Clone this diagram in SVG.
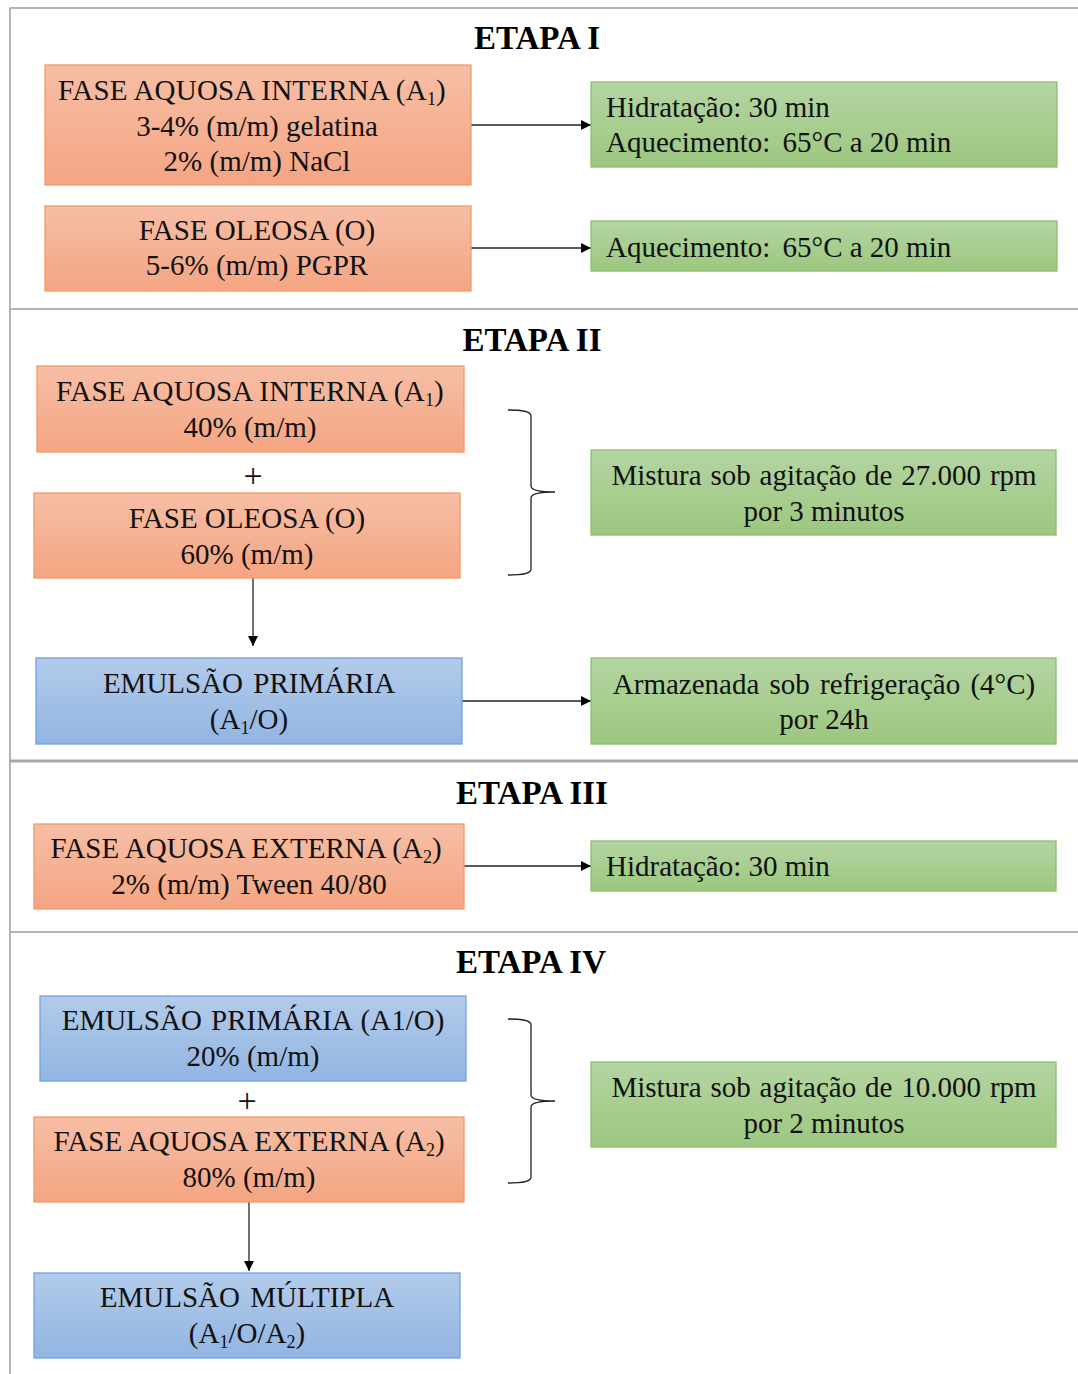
<svg xmlns="http://www.w3.org/2000/svg" width="1078" height="1374" viewBox="0 0 1078 1374">
<defs>
<linearGradient id="gO" x1="0" y1="0" x2="0" y2="1"><stop offset="0" stop-color="#f7bea5"/><stop offset="1" stop-color="#f4a582"/></linearGradient>
<linearGradient id="gG" x1="0" y1="0" x2="0" y2="1"><stop offset="0" stop-color="#b4d5a2"/><stop offset="1" stop-color="#9cc77f"/></linearGradient>
<linearGradient id="gB" x1="0" y1="0" x2="0" y2="1"><stop offset="0" stop-color="#b2cbea"/><stop offset="1" stop-color="#92b5e2"/></linearGradient>
<marker id="ah" viewBox="0 0 10 10" refX="10" refY="5" markerWidth="10" markerHeight="10" markerUnits="userSpaceOnUse" orient="auto"><path d="M0,0 L10,5 L0,10 z" fill="#000"/></marker>
</defs>
<style>
.o{fill:url(#gO);stroke:#f39a64;stroke-width:1.3}
.g{fill:url(#gG);stroke:#8dbf6c;stroke-width:1.3}
.b{fill:url(#gB);stroke:#6fa3e0;stroke-width:1.3}
text{font-family:"Liberation Serif","Times New Roman",serif;font-size:29px;fill:#111}
.c{text-anchor:middle}
.t{font-weight:bold;font-size:33px;text-anchor:middle;fill:#000}
.s{font-size:18px}
.p{font-size:34px}
.frame{stroke:#b4b4b4;stroke-width:2;fill:none}
.ln{stroke:#222;stroke-width:1.3;fill:none}
</style>
<rect width="1078" height="1374" fill="#fff"/>
<g id="frame">
<line class="frame" x1="10" y1="8" x2="1078" y2="8"/>
<line class="frame" x1="10" y1="8" x2="10" y2="1374"/>
<line class="frame" x1="10" y1="309" x2="1078" y2="309"/>
<line class="frame" x1="10" y1="761" x2="1078" y2="761" style="stroke-width:3;stroke:#a8a8a8"/>
<line class="frame" x1="10" y1="932" x2="1078" y2="932"/>
</g>
<g id="titles">
<text class="t" x="537" y="49">ETAPA I</text>
<text class="t" x="532" y="351">ETAPA II</text>
<text class="t" x="532" y="804">ETAPA III</text>
<text class="t" x="531" y="973">ETAPA IV</text>
</g>
<g id="connectors">
<line class="ln" x1="471" y1="125" x2="591" y2="125" marker-end="url(#ah)"/>
<line class="ln" x1="471" y1="248" x2="591" y2="248" marker-end="url(#ah)"/>
<line class="ln" x1="253" y1="578" x2="253" y2="646" marker-end="url(#ah)"/>
<line class="ln" x1="462" y1="701" x2="591" y2="701" marker-end="url(#ah)"/>
<line class="ln" x1="464" y1="866" x2="591" y2="866" marker-end="url(#ah)"/>
<line class="ln" x1="249" y1="1202" x2="249" y2="1271" marker-end="url(#ah)"/>
<path class="ln" d="M508,410 C522,410 531,411 531,416 L531,486 C531,490 540,492 555,492 C540,492 531,494 531,498 L531,569 C531,574 522,575 508,575"/>
<path class="ln" d="M508,1019 C522,1019 531,1020 531,1025 L531,1095 C531,1099 540,1101 555,1101 C540,1101 531,1103 531,1107 L531,1177 C531,1182 522,1183 508,1183"/>
</g>
<g id="n1">
<rect class="o" x="45" y="65" width="426" height="120"/>
<text class="c" x="252" y="100" letter-spacing="0.2">FASE AQUOSA INTERNA (A<tspan class="s" dy="5">1</tspan><tspan dy="-5">)</tspan></text>
<text class="c" x="257" y="135.5">3-4% (m/m) gelatina</text>
<text class="c" x="257" y="171">2% (m/m) NaCl</text>
</g>
<g id="n2">
<rect class="o" x="45" y="206" width="426" height="85"/>
<text class="c" x="257" y="240">FASE OLEOSA (O)</text>
<text class="c" x="257" y="275">5-6% (m/m) PGPR</text>
</g>
<g id="n3">
<rect class="g" x="591" y="82" width="466" height="85"/>
<text x="606" y="117">Hidratação: 30 min</text>
<text x="606" y="152">Aquecimento: <tspan dx="5">65°C a 20 min</tspan></text>
</g>
<g id="n4">
<rect class="g" x="591" y="221" width="466" height="50"/>
<text x="606" y="257">Aquecimento: <tspan dx="5">65°C a 20 min</tspan></text>
</g>
<g id="n5">
<rect class="o" x="37" y="366" width="427" height="86"/>
<text class="c" x="250" y="401" letter-spacing="0.2">FASE AQUOSA INTERNA (A<tspan class="s" dy="5">1</tspan><tspan dy="-5">)</tspan></text>
<text class="c" x="250" y="437">40% (m/m)</text>
</g>
<text class="c p" x="253" y="487">+</text>
<g id="n6">
<rect class="o" x="34" y="493" width="426" height="85"/>
<text class="c" x="247" y="528">FASE OLEOSA (O)</text>
<text class="c" x="247" y="564">60% (m/m)</text>
</g>
<g id="n7">
<rect class="b" x="36" y="658" width="426" height="86"/>
<text class="c" x="249" y="693" word-spacing="3">EMULSÃO PRIMÁRIA</text>
<text class="c" x="249" y="729">(A<tspan class="s" dy="5">1</tspan><tspan dy="-5">/O)</tspan></text>
</g>
<g id="n8">
<rect class="g" x="591" y="450" width="465" height="85"/>
<text class="c" x="824" y="485" word-spacing="1.6">Mistura sob agitação de 27.000 rpm</text>
<text class="c" x="824" y="521">por 3 minutos</text>
</g>
<g id="n9">
<rect class="g" x="591" y="658" width="465" height="86"/>
<text class="c" x="824" y="694" word-spacing="3">Armazenada sob refrigeração (4°C)</text>
<text class="c" x="824" y="729">por 24h</text>
</g>
<g id="n10">
<rect class="o" x="34" y="824" width="430" height="85"/>
<text class="c" x="246" y="858">FASE AQUOSA EXTERNA (A<tspan class="s" dy="5">2</tspan><tspan dy="-5">)</tspan></text>
<text class="c" x="249" y="894">2% (m/m) Tween 40/80</text>
</g>
<g id="n11">
<rect class="g" x="591" y="841" width="465" height="50"/>
<text x="606" y="876">Hidratação: 30 min</text>
</g>
<g id="n12">
<rect class="b" x="40" y="996" width="426" height="85"/>
<text class="c" x="253" y="1030" word-spacing="2">EMULSÃO PRIMÁRIA (A1/O)</text>
<text class="c" x="253" y="1066">20% (m/m)</text>
</g>
<text class="c p" x="247" y="1112">+</text>
<g id="n13">
<rect class="o" x="34" y="1117" width="430" height="85"/>
<text class="c" x="249" y="1151">FASE AQUOSA EXTERNA (A<tspan class="s" dy="5">2</tspan><tspan dy="-5">)</tspan></text>
<text class="c" x="249" y="1187">80% (m/m)</text>
</g>
<g id="n14">
<rect class="g" x="591" y="1062" width="465" height="85"/>
<text class="c" x="824" y="1097" word-spacing="1.6">Mistura sob agitação de 10.000 rpm</text>
<text class="c" x="824" y="1133">por 2 minutos</text>
</g>
<g id="n15">
<rect class="b" x="34" y="1273" width="426" height="85"/>
<text class="c" x="247" y="1307" word-spacing="3">EMULSÃO MÚLTIPLA</text>
<text class="c" x="247" y="1343">(A<tspan class="s" dy="5">1</tspan><tspan dy="-5">/O/A</tspan><tspan class="s" dy="5">2</tspan><tspan dy="-5">)</tspan></text>
</g>
</svg>
